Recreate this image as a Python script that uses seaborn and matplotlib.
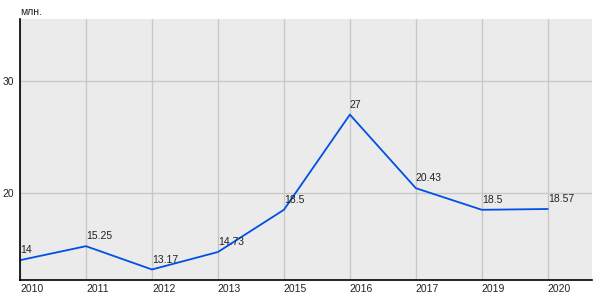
import matplotlib
matplotlib.use("Agg")
import matplotlib.pyplot as plt
import seaborn as sns
import pandas as pd

years = ["2010", "2011", "2012", "2013", "2015", "2016", "2017", "2019", "2020"]
values = [14, 15.25, 13.17, 14.73, 18.5, 27, 20.43, 18.5, 18.57]
value_labels = ["14", "15.25", "13.17", "14.73", "18.5", "27", "20.43", "18.5", "18.57"]
y_ticks = [20, 30]
unit_label = "млн."

sns.set_style("white")
plt.rcParams["font.family"] = ["Liberation Sans", "DejaVu Sans"]

df = pd.DataFrame({"pos": range(len(years)), "value": values})

fig = plt.figure(figsize=(6, 3), dpi=100)
ax = fig.add_axes([20/600, 20/300, 572/600, 261/300])
ax.set_facecolor("#EBEBEB")

sns.lineplot(data=df, x="pos", y="value", ax=ax, color="#0050E6", linewidth=1.3, sort=False)

for i, (v, lab) in enumerate(zip(values, value_labels)):
    ax.annotate(lab, (i, v), xytext=(0, 3.5), textcoords="offset points",
                ha="left", va="bottom", fontsize=7.5, color="#222222")

ax.set_xlim(0, 8.67)
ax.set_ylim(12.23, 35.54)
ax.set_xticks(range(len(years)))
ax.set_xticklabels(years, ha="left")
ax.set_yticks(y_ticks)
ax.tick_params(axis="x", length=0, pad=3, labelsize=7.5, colors="#222222")
ax.tick_params(axis="y", length=3, width=1, pad=1, labelsize=7.5, colors="#222222")
ax.tick_params(axis="y", color="black")
ax.grid(True, color="#C8C8C8", linewidth=1)
ax.set_axisbelow(True)
for s in ["top", "right"]:
    ax.spines[s].set_visible(False)
for s in ["left", "bottom"]:
    ax.spines[s].set_visible(True)
    ax.spines[s].set_color("black")
    ax.spines[s].set_linewidth(1.2)
ax.set_xlabel("")
ax.set_ylabel("")
fig.text(20/600, 1 - 12/300, unit_label, fontsize=7.5, color="#222222", ha="left", va="center")

fig.savefig("out.png", dpi=100)
